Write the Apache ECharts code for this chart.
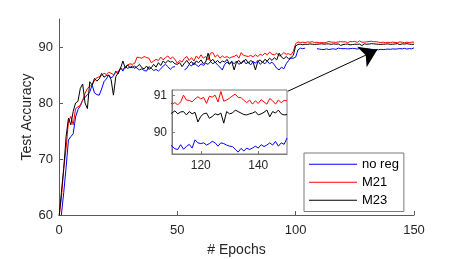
<!DOCTYPE html>
<html>
<head>
<meta charset="utf-8">
<script src="https://cdn.jsdelivr.net/npm/echarts@6/dist/echarts.min.js"></script>
<style>html,body{margin:0;padding:0;background:#fff;}#c{width:457px;height:259px;}</style>
</head>
<body>
<div id="c"></div>
<script>
// Test accuracy per epoch (index = epoch 0..150); null = missing
const noReg = [
59.5,60,64,68.5,73.4,74,74.5,77.5,78.8,79.5,
80.5,81,81.5,82,83.2,81.8,81.5,81.4,82.5,83.8,
84.3,85,84.5,84.8,85.7,85.2,86.3,85.7,86.5,86.2,
86.4,86.3,86.6,86.2,85.9,86.1,85.8,85.7,86.5,86.2,
85.8,86.0,85.7,86.1,86.6,86.9,86.5,86.0,86.4,86.5,
null,null,null,85.9,86.2,86.9,86.6,87.2,86.8,86.5,
87.0,86.7,87.1,86.9,87.4,87.0,87.3,86.8,86.4,85.9,
86.9,87.3,86.9,87.4,87.0,87.5,86.9,87.2,87.6,87.0,
87.3,86.8,87.4,87.1,87.6,86.9,87.3,87.0,87.5,87.0,
87.3,86.8,86.2,85.9,86.4,86.1,87.0,87.6,88.0,88.0,
88.2,89.5,89.8,89.7,89.8,null,null,null,null,89.7,
89.63,89.56,89.54,89.67,89.55,89.62,89.68,89.58,89.80,89.72,
89.70,89.72,89.66,89.70,89.76,89.72,89.63,89.72,89.70,89.66,
89.63,89.62,89.55,89.47,89.57,89.50,89.58,89.54,89.58,89.63,
89.58,89.67,89.62,89.66,89.72,89.66,89.76,89.63,89.72,89.68,
89.85
];
const m21 = [
59.5,63,68.3,71.9,76.7,77.6,76.1,79,79.3,79.6,
80.5,81.7,82.6,83,83.2,84.1,84.5,84.7,84.9,85.3,
85.1,85.5,85.3,85.1,85.4,85.6,86.2,86.0,86.5,86.8,
87.0,86.9,87.1,88.2,88.1,88.0,88.3,88.1,88.0,87.2,
87.5,87.8,87.6,88.2,87.7,88.1,88.4,87.9,88.2,87.8,
87.1,87.6,87.3,88.0,88.3,87.6,88.1,87.5,88.4,87.9,
88.6,88.0,88.3,87.7,88.9,89.0,88.2,88.6,88.0,88.4,
88.1,88.3,88.0,88.2,88.3,88.6,88.0,89.0,88.5,88.4,
88.3,88.5,88.2,88.6,88.3,88.7,88.5,88.9,88.6,89.1,
88.7,88.6,88.9,88.4,88.6,89.0,88.7,88.8,88.6,89.2,
90.6,90.9,90.8,90.85,90.8,90.9,90.85,90.95,90.8,90.85,
90.76,90.80,90.74,90.82,91.00,90.87,90.86,90.82,90.90,90.96,
90.90,90.94,90.78,90.97,90.95,91.00,90.82,91.10,90.84,90.87,
90.92,90.98,91.03,90.94,90.94,90.86,90.80,90.87,90.76,90.85,
90.78,90.88,90.82,90.76,90.91,90.85,90.76,90.87,90.80,90.86,
90.85
];
const m23 = [
59.5,64,68.3,74,77.3,76.1,78.5,80,80.3,82.6,
83.4,80,79,83.8,83.2,84.4,83.9,84.3,85.3,84.6,
84.9,85.0,84.2,81.4,84.7,85.4,86.2,87.5,86.2,86.8,
86.3,86.6,86.2,86.5,86.9,86.3,86.1,86.6,86.0,86.3,
86.9,86.4,87.2,86.7,87.5,87.1,87.6,87.3,87.4,87.0,
86.9,87.2,86.5,87.1,87.6,87.0,87.4,86.8,87.5,87.2,
87.7,87.0,87.3,88.9,87.4,87.8,87.2,87.6,87.1,87.5,
87.3,87.8,87.0,87.4,85.9,87.3,87.6,87.0,87.5,87.8,
87.1,87.6,87.3,85.9,87.4,87.7,87.2,87.8,87.5,88.0,
87.6,88.1,87.7,88.9,88.2,87.9,88.3,87.9,88.1,88.5,
90.2,90.45,90.5,90.4,90.5,90.45,90.55,90.5,90.45,90.5,
90.52,90.58,90.50,90.55,90.56,90.47,90.56,90.50,90.54,90.28,
90.43,90.50,90.52,90.38,90.43,90.50,90.47,90.52,90.25,90.56,
90.50,90.52,90.60,90.56,90.52,90.48,90.47,90.50,90.52,90.56,
90.47,90.50,90.54,90.60,90.42,90.56,90.52,90.60,90.50,90.47,
90.48
];
const seriesNames = ['no reg', 'M21', 'M23'];
const seriesColors = ['#0000ff', '#ff0000', '#000000'];
const mainXTicks = [0, 50, 100, 150];
const mainYTicks = [60, 70, 80, 90];
const insetXTicks = [120, 140];
const insetYTicks = [90, 91];
const arrowFrom = [96.7, 82.1];
const arrowTo = [134.5, 89.5];

const allValues = [noReg, m21, m23];
const toPairs = arr => arr.map((v, i) => [i, v === null ? '-' : v]);

const font = 'Liberation Sans, Arial, Helvetica, sans-serif';
const axisColor = '#5a5a5a';
const textColor = '#262626';
const insetColor = '#7a7a7a';

const series = [];
allValues.forEach((vals, k) => {
  series.push({
    name: seriesNames[k], type: 'line', xAxisIndex: 0, yAxisIndex: 0,
    data: toPairs(vals), symbol: 'none', showSymbol: false, connectNulls: false,
    clip: true, z: 2 + k,
    lineStyle: { color: seriesColors[k], width: 1 }, itemStyle: { color: seriesColors[k] },
    animation: false
  });
});
series[2].markLine = {
  silent: true, symbol: ['none', 'arrow'], symbolSize: 17, animation: false,
  label: { show: false },
  lineStyle: { color: '#000', width: 1, type: 'solid' },
  data: [[{ coord: arrowFrom }, { coord: arrowTo }]]
};
allValues.forEach((vals, k) => {
  series.push({
    name: seriesNames[k], type: 'line', xAxisIndex: 1, yAxisIndex: 1,
    data: toPairs(vals), symbol: 'none', showSymbol: false, connectNulls: false,
    clip: true, z: 10 + k,
    lineStyle: { color: seriesColors[k], width: 1 }, itemStyle: { color: seriesColors[k] },
    animation: false
  });
});

const legendData = seriesNames.map((n, k) => ({
  name: n,
  icon: 'rect',
  itemStyle: { color: seriesColors[k], opacity: 1, borderWidth: 0 }
}));

const chart = echarts.init(document.getElementById('c'), null, { renderer: 'canvas' });
chart.setOption({
  animation: false,
  backgroundColor: '#fff',
  textStyle: { fontFamily: font },
  grid: [
    { left: 59, right: 43, top: 19, bottom: 44, containLabel: false, outerBoundsMode: 'none' },
    { left: 172, top: 90, width: 115, height: 64, show: true, backgroundColor: '#fff', borderColor: insetColor, borderWidth: 1, z: 5, containLabel: false, outerBoundsMode: 'none' }
  ],
  legend: {
    data: legendData, orient: 'vertical', left: 304, top: 153,
    backgroundColor: '#fff', borderColor: insetColor, borderWidth: 1,
    padding: [4, 5, 4, 5], itemWidth: 48, itemHeight: 1, itemGap: 3.5,
    textStyle: { fontSize: 13, color: '#000', fontFamily: font, lineHeight: 14.5 },
    selectedMode: false, z: 20
  },
  xAxis: [
    {
      type: 'value', gridIndex: 0, min: 0, max: 150, interval: 50,
      name: '# Epochs', nameLocation: 'middle', nameGap: 28, nameMoveOverlap: false,
      nameTextStyle: { fontSize: 14, color: textColor, fontFamily: font },
      axisLine: { show: true, onZero: false, lineStyle: { color: axisColor, width: 1 } },
      axisTick: { show: true, inside: true, length: 4, lineStyle: { color: axisColor }, customValues: mainXTicks },
      axisLabel: { fontSize: 13, color: textColor, margin: 9, customValues: mainXTicks },
      splitLine: { show: false }
    },
    {
      type: 'value', gridIndex: 1, min: 110, max: 150,
      axisLine: { show: true, onZero: false, lineStyle: { color: insetColor, width: 1 } },
      axisTick: { show: true, inside: true, length: 3, lineStyle: { color: insetColor }, customValues: insetXTicks },
      axisLabel: { fontSize: 12, color: textColor, margin: 6, customValues: insetXTicks },
      splitLine: { show: false }, z: 6
    }
  ],
  yAxis: [
    {
      type: 'value', gridIndex: 0, min: 60, max: 95,
      name: 'Test Accuracy', nameLocation: 'middle', nameGap: 25, nameMoveOverlap: false,
      nameTextStyle: { fontSize: 14, color: textColor, fontFamily: font },
      axisLine: { show: true, onZero: false, lineStyle: { color: axisColor, width: 1 } },
      axisTick: { show: true, inside: true, length: 4, lineStyle: { color: axisColor }, customValues: mainYTicks },
      axisLabel: { fontSize: 13, color: textColor, margin: 6, customValues: mainYTicks },
      splitLine: { show: false }
    },
    {
      type: 'value', gridIndex: 1, min: 89.42, max: 91.14,
      axisLine: { show: true, onZero: false, lineStyle: { color: insetColor, width: 1 } },
      axisTick: { show: true, inside: true, length: 3, lineStyle: { color: insetColor }, customValues: insetYTicks },
      axisLabel: { fontSize: 12, color: textColor, margin: 5, customValues: insetYTicks },
      splitLine: { show: false }, z: 6
    }
  ],
  series: series
});
</script>
</body>
</html>
